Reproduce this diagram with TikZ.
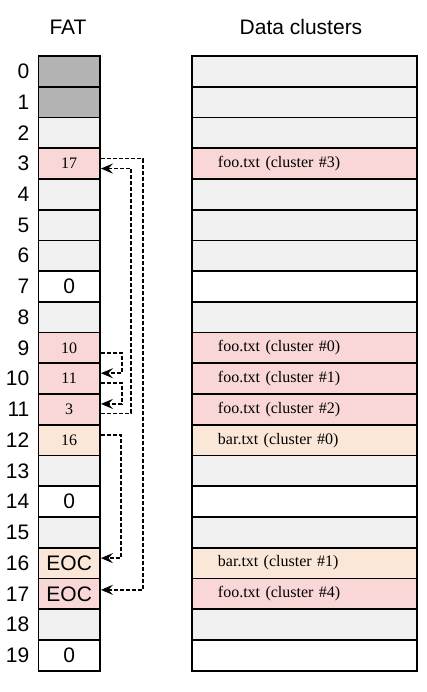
\documentclass[tikz,border=0pt]{standalone}
\usepackage{fontspec}
\setmainfont{Liberation Sans}
\newfontfamily\serifface{Liberation Serif}
\newcommand\cellserif{\serifface\fontsize{16}{18}\selectfont}
\usetikzlibrary{arrows.meta,calc}

\definecolor{resgray}{HTML}{B3B3B3}
\definecolor{freegray}{HTML}{F0F0F0}
\definecolor{foopink}{HTML}{F8D7D6}
\definecolor{barpeach}{HTML}{FAE7D8}

\begin{document}
\begin{tikzpicture}[x=1pt,y=-1pt,>={Stealth[length=12pt,width=10pt,inset=4.5pt]},
    every node/.style={font=\fontsize{21}{24}\selectfont},
    fatcell/.style={draw,line width=1.7pt,minimum width=61.7pt,minimum height=30.7pt,inner sep=0pt},
    datcell/.style={draw,line width=1.7pt,minimum width=225.3pt,minimum height=30.7pt,
        text width=173.3pt,inner xsep=26pt,inner ysep=0pt,align=left,font=\cellserif},
    link/.style={->,line width=1.8pt,dash pattern=on 4pt off 2pt}]
    \useasboundingbox (0,0) rectangle (426,692);
    % titles
    \node (fattitle) at (68,27) {FAT};
    \node (dattitle) at (301,27) {Data clusters};
    % rows of the table and of the data area
    \foreach \i/\fc/\dc/\ent/\dat in {
        0/resgray/freegray//, 1/resgray/freegray//, 2/freegray/freegray//,
        3/foopink/foopink/{\cellserif 17}/{foo.txt (cluster \#3)},
        4/freegray/freegray//, 5/freegray/freegray//, 6/freegray/freegray//,
        7/white/white/0/, 8/freegray/freegray//,
        9/foopink/foopink/{\cellserif 10}/{foo.txt (cluster \#0)},
        10/foopink/foopink/{\cellserif 11}/{foo.txt (cluster \#1)},
        11/foopink/foopink/{\cellserif 3}/{foo.txt (cluster \#2)},
        12/barpeach/barpeach/{\cellserif 16}/{bar.txt (cluster \#0)},
        13/freegray/freegray//, 14/white/white/0/, 15/freegray/freegray//,
        16/barpeach/barpeach/EOC/{bar.txt (cluster \#1)},
        17/foopink/foopink/EOC/{foo.txt (cluster \#4)},
        18/freegray/freegray//, 19/white/white/0/}{
        \pgfmathsetmacro\y{71.35+30.735*\i}
        \node[anchor=east,inner sep=0pt] (n\i) at (29.5,\y) {\i};
        \node[fatcell,fill=\fc] (f\i) at (69.2,\y) {\ent};
        \node[datcell,fill=\dc] (d\i) at (304.6,\y) {\dat};
    }
    % cluster chains
    \draw[link] ([yshift=5pt]f3.east) -- ++(42,0) |- ([yshift=4pt]f17.east);
    \draw[link] ([yshift=-4pt]f11.east) -- ++(30,0) |- ([yshift=-5pt]f3.east);
    \draw[link] ([yshift=-5pt]f9.east) -- ++(21,0) |- ([yshift=5.5pt]f10.east);
    \draw[link] ([yshift=-4pt]f10.east) -- ++(21,0) |- ([yshift=5.5pt]f11.east);
    \draw[link] ([yshift=5pt]f12.east) -- ++(20,0) |- ([yshift=5pt]f16.east);
\end{tikzpicture}
\end{document}
